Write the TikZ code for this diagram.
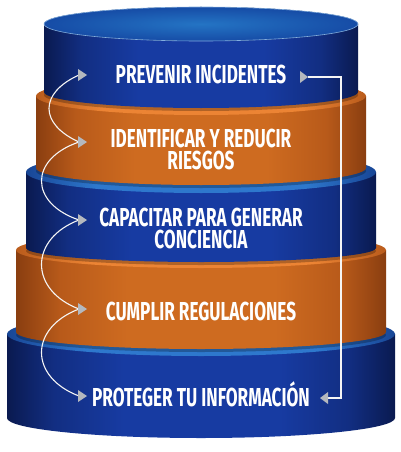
\documentclass[tikz,border=0pt]{standalone}
\usepackage{fontspec}
\usetikzlibrary{calc}
\newfontfamily\condfont{Fira Sans}[FakeStretch=0.66]
\definecolor{blueE}{RGB}{10,26,80}
\definecolor{blueS}{RGB}{18,46,130}
\definecolor{blueM}{RGB}{23,59,162}
\definecolor{blueTopIn}{RGB}{36,116,196}
\definecolor{blueTopOut}{RGB}{22,76,166}
\definecolor{blueRimE}{RGB}{24,70,150}
\definecolor{blueRimM}{RGB}{46,120,205}
\definecolor{orE}{RGB}{138,62,16}
\definecolor{orS}{RGB}{184,90,26}
\definecolor{orM}{RGB}{206,107,32}
\definecolor{orRimE}{RGB}{186,92,28}
\definecolor{orRimM}{RGB}{236,132,52}
\definecolor{tipgray}{RGB}{180,184,190}
\pgfdeclarehorizontalshading{bluebody}{100bp}{color(0bp)=(blueE); color(25bp)=(blueE); color(31bp)=(blueS); color(40bp)=(blueM); color(60bp)=(blueM); color(69bp)=(blueS); color(75bp)=(blueE); color(100bp)=(blueE)}
\pgfdeclarehorizontalshading{orbody}{100bp}{color(0bp)=(orE); color(25bp)=(orE); color(31bp)=(orS); color(40bp)=(orM); color(60bp)=(orM); color(69bp)=(orS); color(75bp)=(orE); color(100bp)=(orE)}
\pgfdeclarehorizontalshading{bluerim}{100bp}{color(0bp)=(blueRimE); color(25bp)=(blueRimE); color(35bp)=(blueRimM); color(65bp)=(blueRimM); color(75bp)=(blueRimE); color(100bp)=(blueRimE)}
\pgfdeclarehorizontalshading{orrim}{100bp}{color(0bp)=(orRimE); color(25bp)=(orRimE); color(35bp)=(orRimM); color(65bp)=(orRimM); color(75bp)=(orRimE); color(100bp)=(orRimE)}
% #1 half width, #2 top centre y, #3 top ry, #4 bottom centre y, #5 bottom ry, #6 body shading, #7 rim shading
\newcommand\drawtier[7]{%
  \shade[shading=#6]
    (201-#1,#2) -- (201-#1,#4) arc[start angle=180,end angle=0,x radius=#1,y radius=#5] -- (201+#1,#2) -- cycle;
  \shade[shading=#7] (201,#2) ellipse[x radius=#1, y radius=#3];
}
\newcommand\tiershadow[3]{%
  \fill[black,opacity=0.25] (201,#2+3) ellipse[x radius=#1, y radius=#3];
}
\begin{document}
\begin{tikzpicture}[x=1pt,y=-1pt,
  lbl/.style={text=white, anchor=base, inner sep=0pt, text height=18pt, text depth=0pt,
    font=\condfont\bfseries\fontsize{26}{26}\selectfont},
  flow/.style={draw=white!92!gray, line width=1.1pt},
  tipfill/.style={fill=tipgray}]
\useasboundingbox (0,0) rectangle (400,452);
\fill[white] (0,0) rectangle (400,452);
% tier 5 (bottom, blue)
\drawtier{194}{334}{22}{418}{20}{bluebody}{bluerim}
% tier 4 (orange)
\tiershadow{185}{332}{17}
\drawtier{185}{250}{18}{332}{17}{orbody}{orrim}
% tier 3 (blue)
\tiershadow{175}{248}{14}
\drawtier{175}{172}{21}{248}{14}{bluebody}{bluerim}
% tier 2 (orange)
\tiershadow{165}{168}{17}
\drawtier{165}{96}{19}{168}{17}{orbody}{orrim}
% tier 1 (top, blue)
\tiershadow{157}{92}{16}
\shade[shading=bluebody]
  (201-157,24) -- (201-157,92) arc[start angle=180,end angle=0,x radius=157,y radius=16] -- (201+157,24) -- cycle;
\fill[inner color=blueTopIn, outer color=blueTopOut] (201,24) ellipse[x radius=157, y radius=17];
\draw[blueRimM!60!white, line width=0.6pt] (201,24) ellipse[x radius=157, y radius=17];

% labels (baselines)
\node[lbl] (t1) at (201,83) {PREVENIR INCIDENTES};
\node[lbl] (t2a) at (201,147) {IDENTIFICAR Y REDUCIR};
\node[lbl] (t2b) at (201,169) {RIESGOS};
\node[lbl] (t3a) at (201,226) {CAPACITAR PARA GENERAR};
\node[lbl] (t3b) at (201,248) {CONCIENCIA};
\node[lbl] (t4) at (201,320) {CUMPLIR REGULACIONES};
\node[lbl] (t5) at (201,406) {PROTEGER TU INFORMACIÓN};

% left arrow points
\coordinate (L1) at (79,75);
\coordinate (L2) at (79,142);
\coordinate (L3) at (79,220);
\coordinate (L4) at (79,309);
\coordinate (L5) at (79,396);
\draw[flow] (L1) .. controls +(-40,18) and +(-40,-18) .. (L2);
\draw[flow] (L2) .. controls +(-50,17) and +(-50,-17) .. (L3);
\draw[flow] (L3) .. controls +(-50,19) and +(-50,-19) .. (L4);
\draw[flow] (L4) .. controls +(-50,19) and +(-50,-19) .. (L5);
\foreach \p in {L1,L2,L3,L4,L5}
  \fill[tipfill] (\p) ++(-1,-6) -- ++(9,6) -- ++(-9,6) -- cycle;

% right connector
\coordinate (R1) at (308,77);
\coordinate (RC1) at (341,77);
\coordinate (RC2) at (341,398);
\coordinate (R2) at (320,398);
\draw[flow] (R1) -- (RC1) -- (RC2) -- ($(R2)+(8,0)$);
\fill[tipfill] (R1) ++(-8,-6) -- ++(8,6) -- ++(-8,6) -- cycle;
\fill[tipfill] (R2) ++(8,-6) -- ++(-8,6) -- ++(8,6) -- cycle;
\end{tikzpicture}
\end{document}
